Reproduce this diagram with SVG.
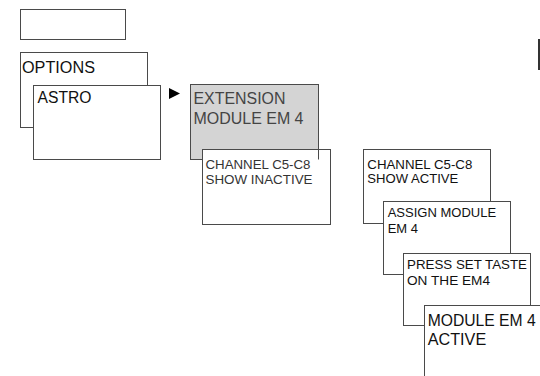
<svg xmlns="http://www.w3.org/2000/svg" width="540" height="376" viewBox="0 0 540 376">
<style>
.box{fill:#ffffff;stroke:#4a4a4a;stroke-width:1}
.gray{fill:#d4d4d4;stroke:#4a4a4a;stroke-width:1}
text{font-family:"Liberation Sans",Arial,sans-serif;fill:#111}
.l{font-size:16px}
.m{font-size:13px}
.s{font-size:12.5px}
</style>
<rect width="540" height="376" fill="#ffffff"/>
<g id="blank">
<rect class="box" x="20.5" y="9.5" width="105" height="30"/>
</g>
<g id="options">
<rect class="box" x="20.5" y="52.5" width="127" height="75"/>
<text class="l" x="22" y="73" textLength="73" lengthAdjust="spacingAndGlyphs">OPTIONS</text>
</g>
<g id="astro">
<rect class="box" x="33.5" y="85.5" width="127" height="74"/>
<text class="l" x="37.5" y="103" textLength="54" lengthAdjust="spacingAndGlyphs">ASTRO</text>
</g>
<g id="connectors">
<polygon points="169,88 180,93.5 169,99" fill="#000"/>
</g>
<g id="extension">
<rect class="gray" x="190.5" y="84.5" width="128" height="75"/>
<text class="l" x="193.5" y="104" textLength="92" lengthAdjust="spacingAndGlyphs" style="fill:#444">EXTENSION</text>
<text class="l" x="193.5" y="124" textLength="110" lengthAdjust="spacingAndGlyphs" style="fill:#444">MODULE EM 4</text>
</g>
<g id="channel-inactive">
<rect class="box" x="202.5" y="149.5" width="128" height="75"/>
<line x1="318.5" y1="149.5" x2="318.5" y2="159.5" stroke="#4a4a4a"/>
<text class="s" x="205.5" y="169" textLength="105" lengthAdjust="spacingAndGlyphs" style="fill:#333">CHANNEL C5-C8</text>
<text class="s" x="205.5" y="183.5" textLength="107" lengthAdjust="spacingAndGlyphs" style="fill:#333">SHOW INACTIVE</text>
</g>
<g id="channel-active">
<rect class="box" x="363.5" y="149.5" width="127" height="74"/>
<text class="s" x="367.3" y="169" textLength="105" lengthAdjust="spacingAndGlyphs">CHANNEL C5-C8</text>
<text class="s" x="367.3" y="183.3" textLength="91" lengthAdjust="spacingAndGlyphs">SHOW ACTIVE</text>
</g>
<g id="assign">
<rect class="box" x="383.5" y="201.5" width="127" height="73"/>
<text class="m" x="387.7" y="216.7" textLength="108.5" lengthAdjust="spacingAndGlyphs">ASSIGN MODULE</text>
<text class="m" x="387.7" y="232.7" textLength="30.3" lengthAdjust="spacingAndGlyphs">EM 4</text>
</g>
<g id="press">
<rect class="box" x="403.5" y="253.5" width="127" height="72"/>
<text class="m" x="407" y="268.7" textLength="120" lengthAdjust="spacingAndGlyphs">PRESS SET TASTE</text>
<text class="m" x="407" y="284.7" textLength="83" lengthAdjust="spacingAndGlyphs">ON THE EM4</text>
</g>
<g id="module-active">
<rect class="box" x="424.5" y="305.5" width="130" height="90"/>
<text class="l" x="427.7" y="326" textLength="108" lengthAdjust="spacingAndGlyphs">MODULE EM 4</text>
<text class="l" x="427.7" y="345" textLength="58.5" lengthAdjust="spacingAndGlyphs">ACTIVE</text>
</g>
<g id="edge-mark">
<rect x="538" y="39" width="2" height="31" fill="#333"/>
</g>
</svg>
